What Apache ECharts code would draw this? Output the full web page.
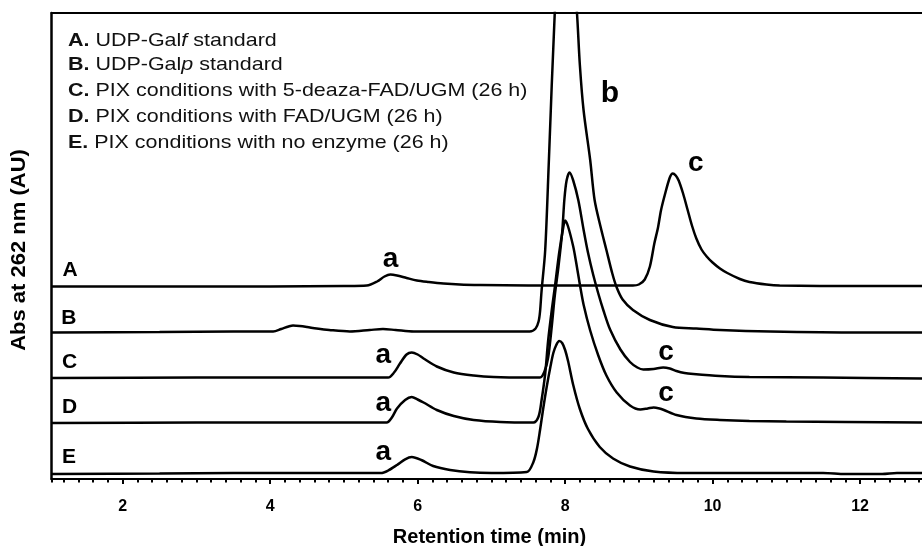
<!DOCTYPE html>
<html><head><meta charset="utf-8">
<script src="https://cdn.jsdelivr.net/npm/echarts@6/dist/echarts.min.js"></script>
<style>html,body{margin:0;padding:0;background:#fff}#c{width:922px;height:546px}</style>
</head><body><div id="c"></div>
<script>
// ---- data (retention time in min, absorbance in arbitrary units above each trace's own baseline)
const traceNames = ['A', 'B', 'C', 'D', 'E'];
const baselineOffsets = [193.5, 147.5, 101.5, 56.5, 6];

const timeA = [1.04, 2.0, 3.0, 4.0, 5.0, 5.31, 5.45, 5.55, 5.63, 5.72, 5.85, 5.99, 6.15, 6.35, 6.57, 6.85, 7.5, 8.5, 8.92, 9.0, 9.08, 9.15, 9.21, 9.26, 9.3, 9.35, 9.42, 9.46, 9.5, 9.54, 9.6, 9.66, 9.72, 9.78, 9.85, 9.92, 10.0, 10.1, 10.2, 10.37, 10.5, 10.73, 10.91, 12.0, 12.85];
const valA  = [-1, -1, -1, -1, -0.5, 0, 4, 9, 11, 10, 7.5, 5, 3.5, 2, 1, 0.5, 0, 0, 0, 1, 6, 19, 42, 58, 75, 90, 108, 112, 110, 105, 92, 76, 60, 47, 36, 29, 23, 17, 12.5, 6.5, 3.5, 1, 0, -0.5, -0.5];

const timeB = [1.04, 2.5, 3.5, 4.04, 4.15, 4.25, 4.31, 4.4, 4.5, 4.63, 4.8, 5.08, 5.35, 5.53, 5.7, 5.95, 7.0, 7.52, 7.6, 7.64, 7.66, 7.68, 7.73, 7.78, 7.86, 7.93, 8.0, 8.07, 8.16, 8.2, 8.25, 8.34, 8.4, 8.48, 8.56, 8.64, 8.7, 8.78, 8.92, 9.15, 9.46, 9.78, 10.1, 10.78, 12.0, 12.85];
const valB  = [-1, -0.5, 0, 0, 2.5, 5, 6, 5.5, 4.5, 3, 1.5, 0, 1.5, 2.5, 1.5, 0, 0, 0, 3, 10, 20, 40, 81.5, 171.5, 319.5, 400, 435, 405, 319.5, 266.5, 221.5, 171.5, 131.5, 105, 81.5, 58, 44, 32, 21.5, 11.5, 4.5, 3, 1.5, 0, -1, -1];

const timeC = [1.04, 3.0, 5.0, 5.6, 5.68, 5.76, 5.85, 5.92, 6.0, 6.08, 6.26, 6.49, 6.76, 7.03, 7.5, 7.66, 7.72, 7.77, 7.82, 7.86, 7.91, 7.96, 7.99, 8.02, 8.06, 8.11, 8.18, 8.25, 8.31, 8.38, 8.45, 8.52, 8.61, 8.75, 8.88, 8.98, 9.06, 9.2, 9.33, 9.42, 9.51, 9.62, 9.74, 10.1, 10.5, 11.5, 12.85];
const valC  = [-0.5, 0, 0, 0, 5, 14, 23, 25, 23, 19, 11, 5, 2, 0.5, 0, 0, 6, 20, 52, 82, 111, 145, 178, 197, 205, 197, 177, 148, 125, 103, 84, 67, 48, 28, 15.5, 10, 8, 8.5, 10, 9, 6.5, 4.5, 3.5, 1.5, 0.5, 0, -1];

const timeD = [1.04, 3.0, 5.0, 5.58, 5.65, 5.72, 5.83, 5.92, 6.0, 6.08, 6.26, 6.49, 6.76, 7.12, 7.57, 7.64, 7.68, 7.73, 7.77, 7.82, 7.86, 7.92, 7.97, 8.0, 8.04, 8.11, 8.15, 8.2, 8.25, 8.34, 8.45, 8.56, 8.7, 8.88, 9.02, 9.12, 9.2, 9.28, 9.34, 9.51, 9.78, 10.1, 10.5, 11.0, 12.85];
const valD  = [-0.5, 0, 0, 0, 5, 14, 22.5, 25.5, 23, 20, 12.5, 6.5, 2.5, 0.5, 0, 6, 22, 49, 82, 113, 135, 170, 193, 202, 196, 176, 160, 138, 118, 92, 67, 47, 30, 17, 13, 14, 15, 14, 12.5, 7.5, 4, 2.5, 1.5, 1, 0];

const timeE = [1.04, 2.5, 3.5, 5.5, 5.6, 5.72, 5.83, 5.92, 6.05, 6.21, 6.44, 6.71, 7.0, 7.48, 7.57, 7.62, 7.66, 7.7, 7.75, 7.8, 7.84, 7.88, 7.92, 7.96, 8.0, 8.04, 8.11, 8.2, 8.31, 8.47, 8.65, 8.88, 9.2, 9.65, 11.5, 11.8, 12.3, 12.5, 12.85];
const valE  = [-1, -0.5, 0, 0, 2.5, 8, 13.7, 16, 13, 7, 3, 0.7, 0, 1, 11, 25, 43, 63, 86, 106, 120, 128, 132, 130, 123, 112, 88, 64, 44, 26, 14.5, 6.5, 1.5, 0, 0, -1, -1, 0, 0];

const traceTimes = [timeA, timeB, timeC, timeD, timeE];
const traceValues = [valA, valB, valC, valD, valE];

const legendLines = [
  '{b|A.} UDP-Gal{i|f} standard',
  '{b|B.} UDP-Gal{i|p} standard',
  '{b|C.} PIX conditions with 5-deaza-FAD/UGM (26 h)',
  '{b|D.} PIX conditions with FAD/UGM (26 h)',
  '{b|E.} PIX conditions with no enzyme (26 h)'
];
const legendCenters = [40.5, 65, 91, 117, 143];
const yTitle = 'Abs at 262 nm (AU)';
const xTitle = 'Retention time (min)';

// annotation text anchored in data coordinates [time, absorbance, text]
const traceLabelPos = [[1.285, 208.8], [1.27, 161], [1.278, 117], [1.278, 71.5], [1.27, 21.5]];
const peakLabels = [
  [5.631, 219.5, 'a'], [5.534, 123.9, 'a'], [5.534, 75.4, 'a'], [5.534, 26.6, 'a'],
  [8.609, 385.6, 'b'],
  [9.773, 316.2, 'c'], [9.368, 127.1, 'c'], [9.368, 85.4, 'c']
];

const xTickLabels = ['2', '4', '6', '8', '10', '12'];

// ---- chart
const FONT = '"Liberation Sans", Arial, sans-serif';
const chart = echarts.init(document.getElementById('c'), null, {renderer: 'canvas'});

const lineSeries = traceNames.map((name, i) => ({
  name: name,
  type: 'line',
  xAxisIndex: 0, yAxisIndex: 0,
  data: traceTimes[i].map((t, k) => [t, traceValues[i][k] + baselineOffsets[i]]),
  showSymbol: false,
  symbol: 'none',
  smooth: 0.3,
  clip: true,
  lineStyle: {color: '#000', width: 2.5},
  z: 3
}));

const xMin = 1.034, xMax = 12.9;

chart.setOption({
  animation: false,
  backgroundColor: '#fff',
  grid: {left: 51.5, right: -4.4, top: 13, bottom: 67, containLabel: false, outerBoundsMode: 'none'},
  xAxis: [
    {
      type: 'value', position: 'bottom', min: xMin, max: xMax,
      minInterval: 2, maxInterval: 2,
      axisLine: {show: true, lineStyle: {color: '#000', width: 2}},
      axisTick: {show: true, inside: false, length: 5, lineStyle: {color: '#000', width: 2}},
      axisLabel: {
        show: true, margin: 19.5, showMinLabel: false, showMaxLabel: false,
        fontFamily: FONT, fontWeight: 'bold', fontSize: 16, color: '#000',
        formatter: v => { const r = Math.round(v); const s = String(r); return (Math.abs(v - r) < 1e-6 && xTickLabels.indexOf(s) >= 0) ? s : ''; }
      },
      splitLine: {show: false}
    },
    {
      type: 'value', position: 'bottom', min: xMin, max: xMax,
      minInterval: 0.2, maxInterval: 0.2,
      axisLine: {show: false},
      axisTick: {show: true, length: 3.5, lineStyle: {color: '#000', width: 2}},
      axisLabel: {show: false},
      splitLine: {show: false}
    },
    {
      type: 'value', position: 'top', min: xMin, max: xMax,
      axisLine: {show: true, lineStyle: {color: '#000', width: 2}},
      axisTick: {show: false}, axisLabel: {show: false}, splitLine: {show: false}
    }
  ],
  yAxis: [{
    type: 'value', min: 0, max: 466,
    axisLine: {show: true, lineStyle: {color: '#000', width: 2.5}},
    axisTick: {show: false}, axisLabel: {show: false}, splitLine: {show: false}
  }],
  series: lineSeries
});

// text elements: legend, titles, and annotations placed through the axes
const graphics = legendLines.map((txt, i) => ({
  type: 'text',
  x: 68,
  y: legendCenters[i],
  scaleX: 1.13,
  style: {
    text: txt,
    verticalAlign: 'middle',
    fontFamily: FONT, fontSize: 19, fill: '#111',
    rich: {
      b: {fontFamily: FONT, fontSize: 19, fontWeight: 'bold', fill: '#111'},
      i: {fontFamily: FONT, fontSize: 19, fontStyle: 'italic', fill: '#111'}
    }
  },
  z: 10
})).concat([
  {
    type: 'text', x: 19, y: 250, rotation: Math.PI / 2, scaleX: 1.1,
    style: {text: yTitle, align: 'center', verticalAlign: 'middle', fontFamily: FONT, fontSize: 20, fontWeight: 'bold', fill: '#000'},
    z: 10
  },
  {
    type: 'text', x: 489.5, y: 537,
    style: {text: xTitle, align: 'center', verticalAlign: 'middle', fontFamily: FONT, fontSize: 20, fontWeight: 'bold', fill: '#000'},
    z: 10
  }
]);

const annotations = traceLabelPos.map((p, i) => ({pos: p, text: traceNames[i], size: 21}))
  .concat(peakLabels.map(p => ({pos: [p[0], p[1]], text: p[2], size: p[2] === 'b' ? 30 : 28})));

annotations.forEach(a => {
  const px = chart.convertToPixel({xAxisIndex: 0, yAxisIndex: 0}, a.pos);
  graphics.push({
    type: 'text', x: px[0], y: px[1],
    style: {text: a.text, align: 'center', verticalAlign: 'middle', fontFamily: FONT, fontSize: a.size, fontWeight: 'bold', fill: '#000'},
    z: 10
  });
});

chart.setOption({graphic: graphics});
</script>
</body></html>
